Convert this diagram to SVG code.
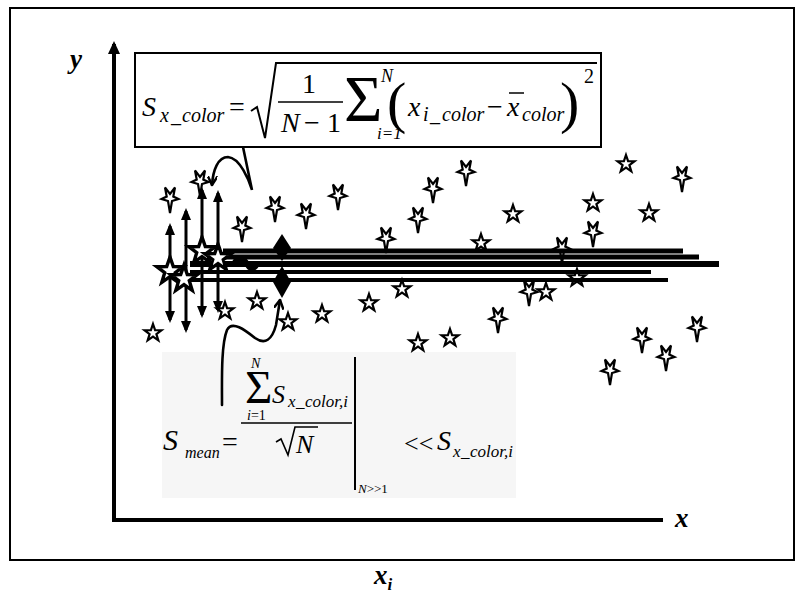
<svg xmlns="http://www.w3.org/2000/svg" xmlns:xlink="http://www.w3.org/1999/xlink" width="796" height="603" viewBox="0 0 796 603">
<style>
  .f { font-family: "Liberation Serif", "Times New Roman", serif; fill: #000; }
  .it { font-style: italic; }
  .bi { font-style: italic; font-weight: bold; }
  .st { fill: #fff; stroke: #000; stroke-width: 2.2; stroke-linejoin: miter; }
  .bst { fill: #fff; stroke: #000; stroke-width: 3.4; stroke-linejoin: miter; }
  .hl { stroke: #000; stroke-linecap: butt; fill: none; }
  .va { stroke: #000; stroke-width: 3; marker-start: url(#ah); marker-end: url(#ah); }
  .cv { fill: none; stroke: #000; stroke-width: 2.6; stroke-linecap: round; }
</style>
<defs>
  <marker id="ah" viewBox="0 0 12 10" refX="9" refY="5" markerWidth="12" markerHeight="10" markerUnits="userSpaceOnUse" orient="auto-start-reverse">
    <path d="M0,0 L12,5 L0,10 z" fill="#000"/>
  </marker>
  <marker id="ax" viewBox="0 0 13 12" refX="10" refY="6" markerWidth="13" markerHeight="12" markerUnits="userSpaceOnUse" orient="auto">
    <path d="M0,0 L13,6 L0,12 z" fill="#000"/>
  </marker>
  <marker id="ov" viewBox="0 0 10 10" refX="9" refY="5" markerWidth="10" markerHeight="10" markerUnits="userSpaceOnUse" orient="auto">
    <path d="M0,0 L9,5 L0,10" fill="none" stroke="#000" stroke-width="2.5"/>
  </marker>
  <path id="ms" d="M0,15 L-2,3 L-8.5,1 L-3.3,-1.5 L-5,-10.5 L0,-4 L5,-10.5 L3.3,-1.5 L8.5,1 L2,3 Z"/>
  <path id="rs" d="M0,-9 L2.1,-2.9 L8.5,-2.8 L3.4,1.1 L5.3,7.3 L0,3.6 L-5.3,7.3 L-3.4,1.1 L-8.5,-2.8 L-2.1,-2.9 Z"/>
  <path id="bs" d="M0,-14 L3.3,-4.5 L13.3,-4.3 L5.3,1.7 L8.2,11.3 L0,5.6 L-8.2,11.3 L-5.3,1.7 L-13.3,-4.3 L-3.3,-4.5 Z"/>
</defs>

<rect id="frame" x="10" y="8" width="784" height="552" fill="none" stroke="#000" stroke-width="2"/>

<g id="axes">
  <line x1="114" y1="522" x2="114" y2="44" stroke="#000" stroke-width="4" marker-end="url(#ax)"/>
  <line x1="112" y1="520" x2="663" y2="520" stroke="#000" stroke-width="4"/>
  <text class="f bi" x="70" y="68" font-size="27">y</text>
  <text class="f bi" x="675" y="527" font-size="27">x</text>
  <text class="f bi" x="374" y="584" font-size="27">x<tspan font-size="17" dy="6">i</tspan></text>
</g>

<rect id="formula-bottom-bg" x="162" y="352" width="354" height="146" fill="#f6f6f6"/>

<g id="stars">
  <use xlink:href="#ms" class="st" x="306" y="214"/>
  <use xlink:href="#ms" class="st" x="338" y="195"/>
  <use xlink:href="#ms" class="st" x="433" y="188"/>
  <use xlink:href="#ms" class="st" x="466" y="171"/>
  <use xlink:href="#ms" class="st" x="418" y="218"/>
  <use xlink:href="#ms" class="st" x="386" y="238"/>
  <use xlink:href="#rs" class="st" x="481" y="243"/>
  <use xlink:href="#rs" class="st" x="513" y="214"/>
  <use xlink:href="#rs" class="st" x="626" y="164"/>
  <use xlink:href="#ms" class="st" x="682" y="177"/>
  <use xlink:href="#rs" class="st" x="593" y="203"/>
  <use xlink:href="#ms" class="st" x="593" y="232"/>
  <use xlink:href="#rs" class="st" x="649" y="213"/>
  <use xlink:href="#ms" class="st" x="562" y="248"/>
  <use xlink:href="#rs" class="st" x="577" y="278"/>
  <use xlink:href="#ms" class="st" x="529" y="291"/>
  <use xlink:href="#rs" class="st" x="546" y="292"/>
  <use xlink:href="#rs" class="st" x="402" y="289"/>
  <use xlink:href="#rs" class="st" x="369" y="303"/>
  <use xlink:href="#rs" class="st" x="322" y="314"/>
  <use xlink:href="#ms" class="st" x="498" y="318"/>
  <use xlink:href="#rs" class="st" x="418" y="343"/>
  <use xlink:href="#rs" class="st" x="450" y="338"/>
  <use xlink:href="#ms" class="st" x="642" y="338"/>
  <use xlink:href="#ms" class="st" x="697" y="327"/>
  <use xlink:href="#ms" class="st" x="666" y="356"/>
  <use xlink:href="#ms" class="st" x="610" y="370"/>
  <use xlink:href="#ms" class="st" x="170" y="198"/>
  <use xlink:href="#ms" class="st" x="242" y="227"/>
  <use xlink:href="#ms" class="st" x="275" y="207"/>
  <use xlink:href="#rs" class="st" x="257" y="301"/>
  <use xlink:href="#rs" class="st" x="288" y="322"/>
  <use xlink:href="#rs" class="st" x="153" y="333"/>
  <use xlink:href="#rs" class="st" x="225" y="311"/>
</g>

<g id="connectors">
  <line class="hl" x1="223" y1="251" x2="683" y2="251" stroke-width="5"/>
  <line class="hl" x1="223" y1="257" x2="699" y2="257" stroke-width="5"/>
  <line class="hl" x1="190" y1="264" x2="719" y2="264" stroke-width="6"/>
  <line class="hl" x1="190" y1="272" x2="651" y2="272" stroke-width="4"/>
  <line class="hl" x1="190" y1="280" x2="668" y2="280" stroke-width="4"/>
  <path d="M282,234 L291,248 L282,261 L273,248 Z" fill="#000"/>
  <path d="M282,266 L291,282 L282,298 L273,282 Z" fill="#000"/>
  <path d="M234,263 C238,256 245,258 247,264 C249,270 255,270 258,263" fill="none" stroke="#000" stroke-width="5"/>
  <line class="va" x1="170" y1="226" x2="170" y2="320"/>
  <line class="va" x1="186" y1="211" x2="186" y2="330"/>
  <line class="va" x1="202" y1="190" x2="202" y2="315"/>
  <line class="va" x1="218" y1="193" x2="218" y2="310"/>
  <path class="cv" d="M243,147 L252,190 C249,180 240,158 228,157 C218,157 213,170 212,185" marker-end="url(#ov)"/>
  <path class="cv" d="M222,405 C222,380 221,345 227,330 C232,320 245,330 255,338 C265,345 272,340 276,325 L280,300" marker-end="url(#ov)"/>
</g>

<g id="bigstars">
  <use xlink:href="#ms" class="st" x="200" y="181"/>
  <use xlink:href="#bs" class="bst" x="170" y="271"/>
  <use xlink:href="#bs" class="bst" x="184" y="279"/>
  <use xlink:href="#bs" class="bst" x="202" y="251"/>
  <use xlink:href="#bs" class="bst" x="218" y="258"/>
</g>

<g id="formula-top">
  <rect x="135" y="53" width="466" height="94" fill="#fff" stroke="#000" stroke-width="2"/>
  <text class="f it" x="142" y="116" font-size="28">S</text>
  <text class="f it" y="122" font-size="20"><tspan x="160">x</tspan><tspan x="171">_</tspan><tspan x="182">color</tspan></text>
  <text class="f" x="229" y="116" font-size="28">=</text>
  <path d="M251,111 L257,107 L265,138 L276,63 L597,63" fill="none" stroke="#000" stroke-width="2"/>
  <text class="f" x="302" y="93" font-size="28">1</text>
  <line x1="278" y1="102" x2="343" y2="102" stroke="#000" stroke-width="1.6"/>
  <text class="f" y="132" font-size="28"><tspan class="it" x="281">N</tspan><tspan x="304">−</tspan><tspan x="327">1</tspan></text>
  <text class="f" x="344" y="121" font-size="66">Σ</text>
  <text class="f it" x="381" y="82" font-size="18">N</text>
  <text class="f it" x="377" y="139" font-size="17">i=1</text>
  <text class="f" x="387" y="122" font-size="58">(</text>
  <text class="f it" x="408" y="116" font-size="28">x</text>
  <text class="f it" y="121" font-size="20"><tspan x="423">i</tspan><tspan x="430">_</tspan><tspan x="442">color</tspan></text>
  <text class="f" x="487" y="116" font-size="28">−</text>
  <text class="f it" x="507" y="116" font-size="28">x</text>
  <line x1="509" y1="93" x2="524" y2="93" stroke="#000" stroke-width="1.5"/>
  <text class="f it" x="522" y="121" font-size="20">color</text>
  <text class="f" x="560" y="122" font-size="58">)</text>
  <text class="f" x="584" y="83" font-size="20">2</text>
</g>

<g id="formula-bottom">
  <text class="f it" x="163" y="450" font-size="30">S</text>
  <text class="f it" x="185" y="458" font-size="16">mean</text>
  <text class="f" x="222" y="451" font-size="28">=</text>
  <text class="f" x="245" y="403" font-size="47">Σ</text>
  <text class="f it" x="251" y="368" font-size="14">N</text>
  <text class="f" x="247" y="420" font-size="14"><tspan class="it">i</tspan>=1</text>
  <text class="f it" x="272" y="403" font-size="26">S</text>
  <text class="f it" y="407" font-size="17"><tspan x="288">x</tspan><tspan x="296">_</tspan><tspan x="305">color,i</tspan></text>
  <line x1="241" y1="423" x2="352" y2="423" stroke="#000" stroke-width="1.5"/>
  <path d="M276,442 L281,439 L288,455 L295,427 L318,427" fill="none" stroke="#000" stroke-width="1.6"/>
  <text class="f it" x="296" y="453" font-size="26">N</text>
  <line x1="355" y1="357" x2="355" y2="490" stroke="#000" stroke-width="2"/>
  <text class="f" x="358" y="493" font-size="13"><tspan class="it">N</tspan>&gt;&gt;1</text>
  <text class="f" x="404" y="452" font-size="26">&lt;&lt;</text>
  <text class="f it" x="437" y="450" font-size="28">S</text>
  <text class="f it" y="457" font-size="17"><tspan x="453">x</tspan><tspan x="461">_</tspan><tspan x="470">color,i</tspan></text>
</g>
</svg>
